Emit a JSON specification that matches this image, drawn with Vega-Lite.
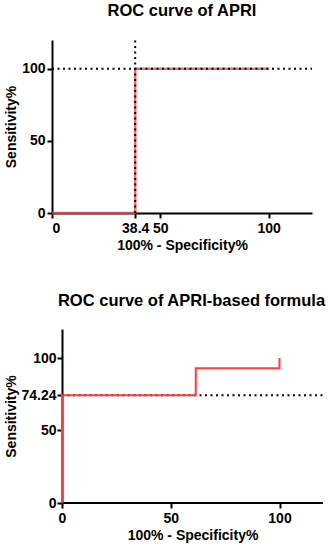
{
  "$schema": "https://vega.github.io/schema/vega-lite/v6.json",
  "padding": {"left": 4, "top": 2, "right": 3, "bottom": 3},
  "background": "white",
  "spacing": 40,
  "config": {
    "view": {"stroke": null},
    "font": "Liberation Sans",
    "axis": {
      "grid": false,
      "domainColor": "black",
      "domainWidth": 2,
      "tickColor": "black",
      "tickWidth": 2,
      "tickSize": 5,
      "labelFont": "Liberation Sans",
      "labelFontWeight": "bold",
      "labelFontSize": 14,
      "labelColor": "black",
      "titleFont": "Liberation Sans",
      "titleFontWeight": "bold",
      "titleFontSize": 14,
      "titleColor": "black",
      "labelPadding": 2,
      "labelExpr": "'' + datum.value"
    },
    "axisX": {"labelPadding": 3},
    "title": {"font": "Liberation Sans", "fontSize": 16.5, "fontWeight": "bold", "color": "black", "offset": 20, "anchor": "middle"}
  },
  "vconcat": [
    {
      "title": "ROC curve of APRI",
      "width": 260,
      "height": 173,
      "layer": [
        {
          "data": {"values": [
            {"fpr": 0, "tpr": 0, "o": 1},
            {"fpr": 38.4, "tpr": 0, "o": 2},
            {"fpr": 38.4, "tpr": 100, "o": 3},
            {"fpr": 100, "tpr": 100, "o": 4}
          ]},
          "mark": {"type": "line", "color": "#f04848", "strokeWidth": 2.5, "opacity": 0.8, "interpolate": "linear"},
          "encoding": {
            "x": {"field": "fpr", "type": "quantitative", "scale": {"domain": [0, 120], "nice": false}, "axis": {"values": [0, 38.4, 50, 100], "title": "100% - Specificity%", "titlePadding": 3}},
            "y": {"field": "tpr", "type": "quantitative", "scale": {"domain": [0, 120], "nice": false}, "axis": {"values": [0, 50, 100], "title": "Sensitivity%", "titlePadding": 3}},
            "order": {"field": "o"}
          }
        },
        {
          "data": {"values": [
            {"x1": 38.4, "x2": 38.4, "y1": 0, "y2": 120},
            {"x1": 0, "x2": 120, "y1": 100, "y2": 100}
          ]},
          "mark": {"type": "rule", "color": "black", "strokeWidth": 2, "strokeDash": [2, 3.5]},
          "encoding": {
            "x": {"field": "x1", "type": "quantitative"},
            "x2": {"field": "x2"},
            "y": {"field": "y1", "type": "quantitative"},
            "y2": {"field": "y2"}
          }
        }
      ]
    },
    {
      "title": {"text": "ROC curve of APRI-based formula", "dx": 4},
      "width": 271,
      "height": 174,
      "layer": [
        {
          "data": {"values": [
            {"x1": 0, "x2": 120, "y1": 0, "y2": 0, "kind": "axis"}
          ]},
          "mark": {"type": "rule", "color": "black", "strokeWidth": 2},
          "encoding": {
            "x": {"field": "x1", "type": "quantitative", "scale": {"domain": [-4.6, 120], "nice": false, "zero": false}, "axis": {"values": [0, 50, 100], "title": "100% - Specificity%", "titlePadding": 3, "domain": false, "titleX": 140.5}},
            "x2": {"field": "x2"},
            "y": {"field": "y1", "type": "quantitative", "scale": {"domain": [0, 120], "nice": false}, "axis": {"values": [0, 50, 74.24, 100], "title": "Sensitivity%", "titlePadding": 2, "labelPadding": 1, "offset": -10}},
            "y2": {"field": "y2"}
          }
        },
        {
          "data": {"values": [
            {"x1": 0, "x2": 120, "y1": 74.24, "y2": 74.24}
          ]},
          "mark": {"type": "rule", "color": "black", "strokeWidth": 2, "strokeDash": [2, 3.5]},
          "encoding": {
            "x": {"field": "x1", "type": "quantitative"},
            "x2": {"field": "x2"},
            "y": {"field": "y1", "type": "quantitative"},
            "y2": {"field": "y2"}
          }
        },
        {
          "data": {"values": [
            {"fpr": 0, "tpr": 0, "o": 1},
            {"fpr": 0, "tpr": 74.24, "o": 2},
            {"fpr": 61.5, "tpr": 74.24, "o": 3},
            {"fpr": 61.5, "tpr": 93, "o": 4},
            {"fpr": 100, "tpr": 93, "o": 5},
            {"fpr": 100, "tpr": 100, "o": 6}
          ]},
          "mark": {"type": "line", "color": "#ff3b3b", "strokeWidth": 2},
          "encoding": {
            "x": {"field": "fpr", "type": "quantitative"},
            "y": {"field": "tpr", "type": "quantitative"},
            "order": {"field": "o"}
          }
        }
      ]
    }
  ]
}
